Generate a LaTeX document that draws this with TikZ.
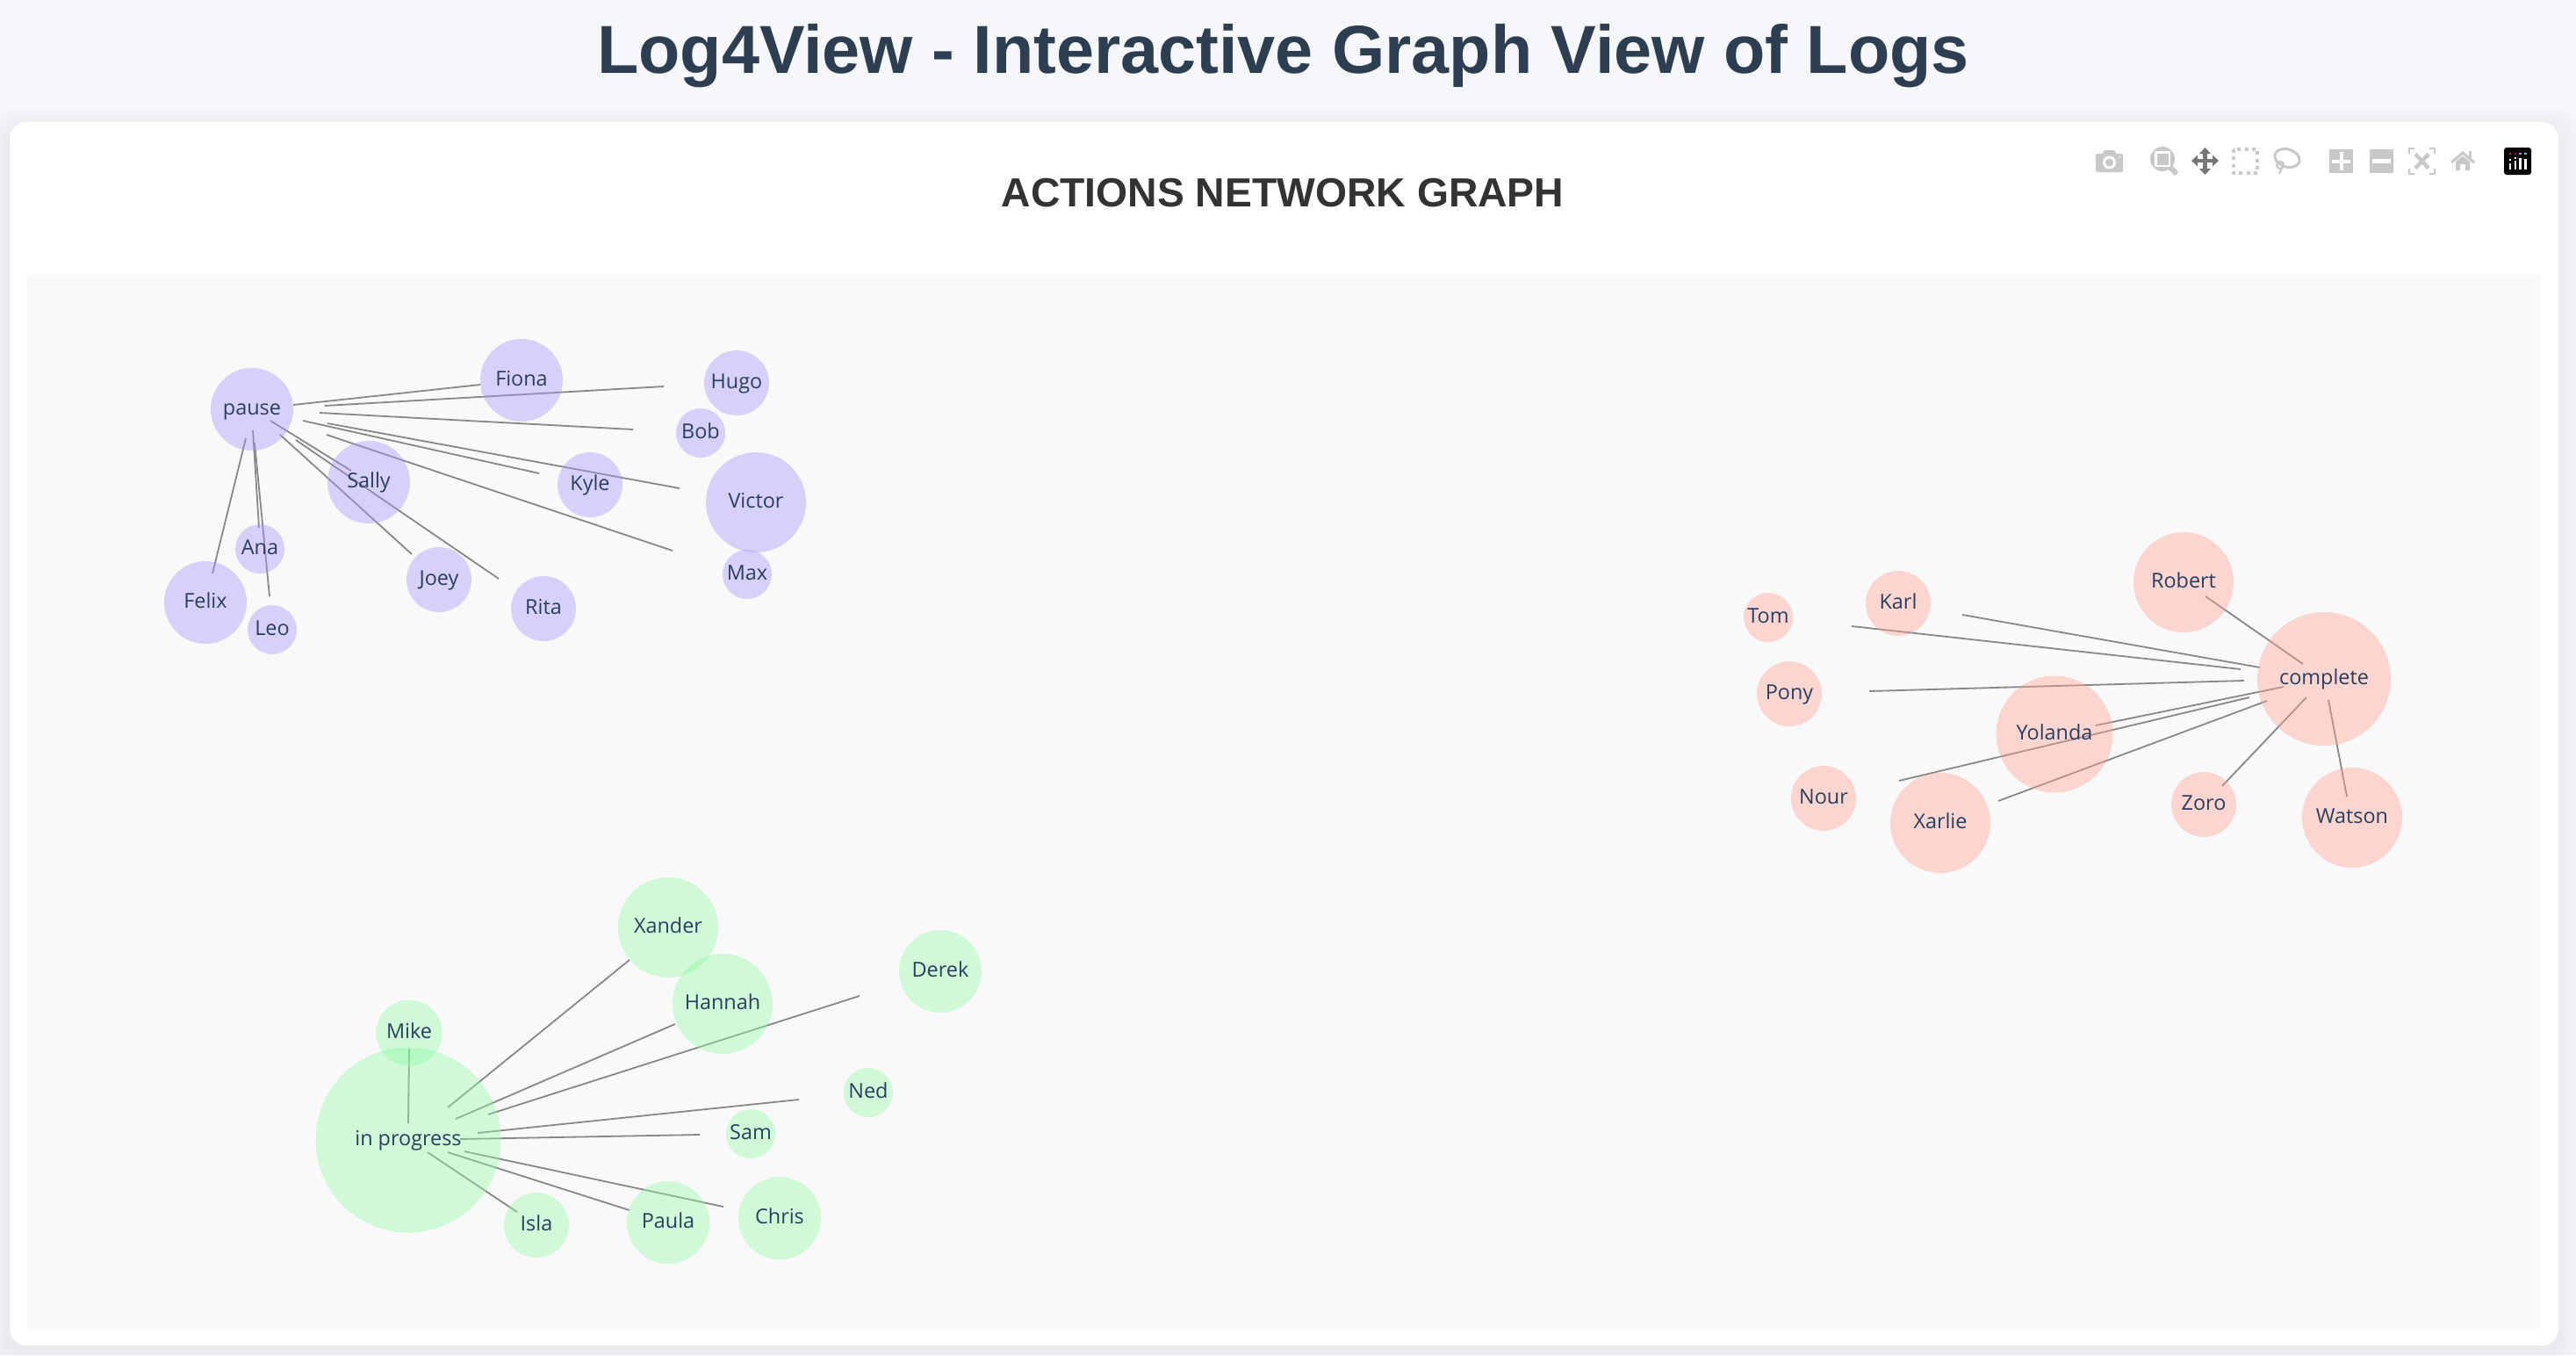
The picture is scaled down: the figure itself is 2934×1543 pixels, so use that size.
\documentclass[tikz,border=0pt]{standalone}
\usepackage{fontspec}
\setmainfont{Liberation Sans}
\newfontfamily\labelfont{Open Sans}
\usetikzlibrary{positioning}

\definecolor{pagebg}{RGB}{245,247,251}
\definecolor{plotbg}{RGB}{249,249,249}
\definecolor{titlecol}{RGB}{44,62,80}
\definecolor{labelcol}{RGB}{42,63,95}
\definecolor{edgecol}{RGB}{136,136,136}
\definecolor{pausecol}{RGB}{166,151,251}
\definecolor{completecol}{RGB}{255,161,146}
\definecolor{progresscol}{RGB}{144,249,164}
\definecolor{iconcol}{RGB}{200,200,200}
\definecolor{pancol}{RGB}{119,119,119}

\tikzset{
    bubble/.style={circle, inner sep=0pt, fill opacity=0.4, text opacity=1,
        font=\labelfont\fontsize{23.4}{23.4}\selectfont, text=labelcol,
        text height=18pt, text depth=6pt},
    pausenode/.style={bubble, fill=pausecol},
    completenode/.style={bubble, fill=completecol},
    progressnode/.style={bubble, fill=progresscol},
    edgeline/.style={draw=edgecol, line width=1.8pt},
    iconfill/.style={fill=iconcol, draw=none}
}

\begin{document}
\begin{tikzpicture}[x=1pt, y=-1pt]
    \useasboundingbox (0,0) rectangle (2934,1543);
    \fill[pagebg] (0,0) rectangle (2934,1543);

    % card with its soft shadow
    \foreach \s in {4,8,...,24}
        \fill[black, opacity=0.009, rounded corners=24pt]
            (11-\s,147-\s) rectangle (2914+\s,1540+\s);
    \fill[white, rounded corners=19pt] (11,139) rectangle (2914,1532);
    \fill[plotbg] (30,313) rectangle (2894,1513);

    \node[anchor=base, text=titlecol, font=\bfseries\fontsize{77.4}{80}\selectfont] (maintitle) at (1461.5,83)
        {Log4View - Interactive Graph View of Logs};
    \node[anchor=base, text=black!80, font=\bfseries\fontsize{46.3}{50}\selectfont] (plottitle) at (1461,235)
        {ACTIONS NETWORK GRAPH};

    % line ends, the plot draws them off the bubbles
    \coordinate (pauseFiona) at (334,461);   \coordinate (endFiona) at (547,438);
    \coordinate (pauseHugo) at (370,462);    \coordinate (endHugo) at (756,440);
    \coordinate (pauseBob) at (364,470);     \coordinate (endBob) at (721,489);
    \coordinate (pauseKyle) at (345,479);    \coordinate (endKyle) at (614,539);
    \coordinate (pauseVictor) at (373,482);  \coordinate (endVictor) at (774,556);
    \coordinate (pauseMax) at (372,495);     \coordinate (endMax) at (766,627);
    \coordinate (pauseSally) at (308,479);   \coordinate (endSally) at (400,536);
    \coordinate (pauseRita) at (337,501);    \coordinate (endRita) at (568,659);
    \coordinate (pauseJoey) at (319,495);    \coordinate (endJoey) at (469,631);
    \coordinate (pauseAna) at (288,490);     \coordinate (endAna) at (295,601);
    \coordinate (pauseLeo) at (290,504);     \coordinate (endLeo) at (307,679);
    \coordinate (pauseFelix) at (280,499);   \coordinate (endFelix) at (242,653);

    \coordinate (completeRobert) at (2623,756);  \coordinate (endRobert) at (2512,679);
    \coordinate (completeKarl) at (2574,760);    \coordinate (endKarl) at (2235,700);
    \coordinate (completeTom) at (2552,762);     \coordinate (endTom) at (2109,713);
    \coordinate (completePony) at (2556,775);    \coordinate (endPony) at (2129,787);
    \coordinate (completeYolanda) at (2601,782); \coordinate (endYolanda) at (2387,826);
    \coordinate (completeNour) at (2562,794);    \coordinate (endNour) at (2163,889);
    \coordinate (completeXarlie) at (2582,798);  \coordinate (endXarlie) at (2276,912);
    \coordinate (completeZoro) at (2627,794);    \coordinate (endZoro) at (2531,895);
    \coordinate (completeWatson) at (2652,797);  \coordinate (endWatson) at (2673,907);

    \coordinate (progressXander) at (510,1261);  \coordinate (endXander) at (717,1093);
    \coordinate (progressHannah) at (519,1274);  \coordinate (endHannah) at (769,1166);
    \coordinate (progressDerek) at (556,1269);   \coordinate (endDerek) at (979,1134);
    \coordinate (progressNed) at (544,1290);     \coordinate (endNed) at (910,1252);
    \coordinate (progressSam) at (524,1297);     \coordinate (endSam) at (797,1292);
    \coordinate (progressChris) at (529,1311);   \coordinate (endChris) at (824,1374);
    \coordinate (progressPaula) at (510,1312);   \coordinate (endPaula) at (717,1378);
    \coordinate (progressIsla) at (487,1312);    \coordinate (endIsla) at (589,1380);
    \coordinate (progressMike) at (466,1194);    \coordinate (endMike) at (465,1279);

    \draw[edgeline] (pauseFiona) -- (endFiona);
    \draw[edgeline] (pauseHugo) -- (endHugo);
    \draw[edgeline] (pauseBob) -- (endBob);
    \draw[edgeline] (pauseKyle) -- (endKyle);
    \draw[edgeline] (pauseVictor) -- (endVictor);
    \draw[edgeline] (pauseMax) -- (endMax);
    \draw[edgeline] (pauseSally) -- (endSally);
    \draw[edgeline] (pauseRita) -- (endRita);
    \draw[edgeline] (pauseJoey) -- (endJoey);
    \draw[edgeline] (pauseAna) -- (endAna);
    \draw[edgeline] (pauseLeo) -- (endLeo);
    \draw[edgeline] (pauseFelix) -- (endFelix);

    \draw[edgeline] (completeRobert) -- (endRobert);
    \draw[edgeline] (completeKarl) -- (endKarl);
    \draw[edgeline] (completeTom) -- (endTom);
    \draw[edgeline] (completePony) -- (endPony);
    \draw[edgeline] (completeYolanda) -- (endYolanda);
    \draw[edgeline] (completeNour) -- (endNour);
    \draw[edgeline] (completeXarlie) -- (endXarlie);
    \draw[edgeline] (completeZoro) -- (endZoro);
    \draw[edgeline] (completeWatson) -- (endWatson);

    \draw[edgeline] (progressXander) -- (endXander);
    \draw[edgeline] (progressHannah) -- (endHannah);
    \draw[edgeline] (progressDerek) -- (endDerek);
    \draw[edgeline] (progressNed) -- (endNed);
    \draw[edgeline] (progressSam) -- (endSam);
    \draw[edgeline] (progressChris) -- (endChris);
    \draw[edgeline] (progressPaula) -- (endPaula);
    \draw[edgeline] (progressIsla) -- (endIsla);
    \draw[edgeline] (progressMike) -- (endMike);

    % pause group
    \node[pausenode, minimum size=94pt] (pause) at (287,466) {pause};
    \node[pausenode, minimum size=94pt] (Fiona) at (594,433) {Fiona};
    \node[pausenode, minimum size=74pt] (Hugo) at (839,436) {Hugo};
    \node[pausenode, minimum size=56pt] (Bob) at (798,493) {Bob};
    \node[pausenode, minimum size=94pt] (Sally) at (420,549) {Sally};
    \node[pausenode, minimum size=74pt] (Kyle) at (672,552) {Kyle};
    \node[pausenode, minimum size=114pt] (Victor) at (861,572) {Victor};
    \node[pausenode, minimum size=56pt] (Max) at (851,654) {Max};
    \node[pausenode, minimum size=56pt] (Ana) at (296,625) {Ana};
    \node[pausenode, minimum size=94pt] (Felix) at (234,686) {Felix};
    \node[pausenode, minimum size=56pt] (Leo) at (310,717) {Leo};
    \node[pausenode, minimum size=74pt] (Joey) at (500,660) {Joey};
    \node[pausenode, minimum size=74pt] (Rita) at (619,693) {Rita};

    % complete group
    \node[completenode, minimum size=152pt] (complete) at (2647,773) {complete};
    \node[completenode, minimum size=114pt] (Robert) at (2487,663) {Robert};
    \node[completenode, minimum size=74pt] (Karl) at (2162,687) {Karl};
    \node[completenode, minimum size=56pt] (Tom) at (2014,703) {Tom};
    \node[completenode, minimum size=74pt] (Pony) at (2038,790) {Pony};
    \node[completenode, minimum size=133pt] (Yolanda) at (2340,836) {Yolanda};
    \node[completenode, minimum size=74pt] (Nour) at (2077,909) {Nour};
    \node[completenode, minimum size=114pt] (Xarlie) at (2210,937) {Xarlie};
    \node[completenode, minimum size=74pt] (Zoro) at (2510,916) {Zoro};
    \node[completenode, minimum size=114pt] (Watson) at (2679,931) {Watson};

    % in progress group
    \node[progressnode, minimum size=211pt] (progress) at (465,1298) {in progress};
    \node[progressnode, minimum size=114pt] (Xander) at (761,1056) {Xander};
    \node[progressnode, minimum size=114pt] (Hannah) at (823,1143) {Hannah};
    \node[progressnode, minimum size=94pt] (Derek) at (1071,1106) {Derek};
    \node[progressnode, minimum size=75pt] (Mike) at (466,1176) {Mike};
    \node[progressnode, minimum size=56pt] (Ned) at (989,1244) {Ned};
    \node[progressnode, minimum size=56pt] (Sam) at (855,1291) {Sam};
    \node[progressnode, minimum size=94pt] (Chris) at (888,1387) {Chris};
    \node[progressnode, minimum size=94pt] (Paula) at (761,1392) {Paula};
    \node[progressnode, minimum size=74pt] (Isla) at (611,1395) {Isla};

    % camera
    \fill[iconfill, rounded corners=2pt] (2387,175) rectangle (2418,196);
    \fill[iconfill] (2394,176) -- (2397,171) -- (2408,171) -- (2411,176) -- cycle;
    \fill[white] (2402.5,185) circle (7.5);
    \fill[iconfill] (2402.5,185) circle (4.5);
    \fill[white] (2414,179) circle (1);
    % zoom box
    \draw[iconcol, line width=6pt] (2471,190) -- (2479,198);
    \fill[iconfill] (2463,181) circle (14);
    \fill[white] (2454,172) rectangle (2472,190);
    \fill[iconfill] (2456.5,174.5) rectangle (2469.5,187.5);
    % pan
    \draw[pancol, line width=4.5pt] (2499,183) -- (2524,183);
    \draw[pancol, line width=4.5pt] (2511.5,172) -- (2511.5,195);
    \fill[pancol] (2496,183) -- (2503,176.5) -- (2503,189.5) -- cycle;
    \fill[pancol] (2527,183) -- (2520,176.5) -- (2520,189.5) -- cycle;
    \fill[pancol] (2511.5,168) -- (2505,175) -- (2518,175) -- cycle;
    \fill[pancol] (2511.5,199) -- (2505,192) -- (2518,192) -- cycle;
    % box select
    \draw[iconcol, line width=3.5pt, dash pattern=on 4pt off 4.3pt] (2544,170) rectangle (2571,197);
    % lasso
    \draw[iconcol, line width=3pt, rotate around={-18:(2605,180)}] (2605,180) ellipse (14.5 and 10);
    \draw[iconcol, line width=2.2pt] (2597,188) circle (4);
    \draw[iconcol, line width=2.2pt] (2599,191) -- (2596,198);
    % plus and minus
    \fill[iconfill] (2653,170) rectangle (2680,197);
    \fill[white] (2656,181.5) rectangle (2677,185.5);
    \fill[white] (2664.5,173) rectangle (2668.5,194);
    \fill[iconfill] (2699,170) rectangle (2726,197);
    \fill[white] (2702,181) rectangle (2723,186);
    % autoscale
    \draw[iconcol, line width=1.8pt] (2744,175) -- (2744,169) -- (2750,169);
    \draw[iconcol, line width=1.8pt] (2767,169) -- (2773,169) -- (2773,175);
    \draw[iconcol, line width=1.8pt] (2773,192) -- (2773,198) -- (2767,198);
    \draw[iconcol, line width=1.8pt] (2750,198) -- (2744,198) -- (2744,192);
    \draw[iconcol, line width=4.5pt] (2751,175.5) -- (2766,191.5);
    \draw[iconcol, line width=4.5pt] (2766,175.5) -- (2751,191.5);
    % home
    \draw[iconcol, line width=3pt] (2792,185) -- (2805,174) -- (2818,185);
    \fill[iconfill] (2812,172) rectangle (2815,180);
    \fill[iconfill] (2797,184) -- (2805,177.5) -- (2813,184) -- (2813,194) -- (2808,194) -- (2808,187) -- (2802,187) -- (2802,194) -- (2797,194) -- cycle;
    % plotly logo
    \fill[black, rounded corners=3pt] (2852,168) rectangle (2883,199);
    \fill[white] (2857.8,186) rectangle (2860.2,193);
    \fill[white] (2863.6,183) rectangle (2866,193);
    \fill[white] (2869.4,180) rectangle (2871.8,193);
    \fill[white] (2875.2,181) rectangle (2877.6,193);
    \fill[white] (2857.8,180.5) rectangle (2860.2,183);
    \fill[white] (2863.6,178.5) rectangle (2866,180.5);
    \fill[magenta!70!red] (2857.8,173.8) rectangle (2860.2,176.2);
    \fill[violet!70!magenta] (2863.6,173.8) rectangle (2866,176.2);
    \fill[violet!50!white] (2869.4,173.8) rectangle (2871.8,176.2);
    \fill[cyan!70!white] (2875.2,173.8) rectangle (2877.6,176.2);
\end{tikzpicture}
\end{document}
